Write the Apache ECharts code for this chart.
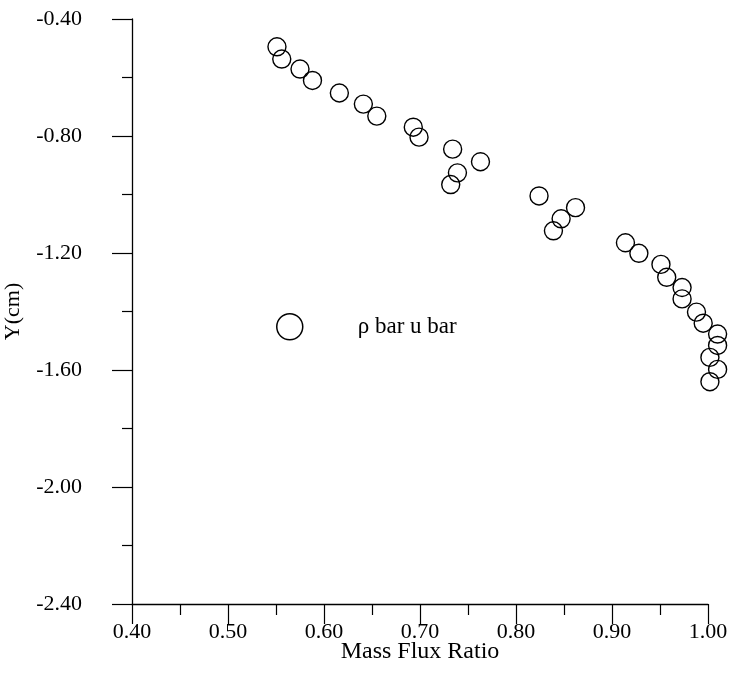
<!DOCTYPE html>
<html>
<head>
<meta charset="utf-8">
<title>Mass Flux Ratio profile</title>
<script src="https://cdn.jsdelivr.net/npm/echarts@6/dist/echarts.min.js"></script>
<style>
  html, body { margin: 0; padding: 0; background: #fff; }
  #chart { width: 733px; height: 688px; }
</style>
</head>
<body>
<div id="chart"></div>
<script>
// Measured profile: mass flux ratio (rho-bar u-bar) against height Y
var massFluxRatio = [
  0.551, 0.556, 0.575, 0.588, 0.616, 0.641, 0.655, 0.693, 0.699, 0.734,
  0.763, 0.739, 0.732, 0.824, 0.862, 0.847, 0.839, 0.914, 0.928, 0.951,
  0.957, 0.973, 0.973, 0.988, 0.995, 1.010, 1.010, 1.002, 1.010, 1.002
];
var yCm = [
  -0.495, -0.537, -0.571, -0.610, -0.653, -0.691, -0.732, -0.770, -0.804, -0.845,
  -0.888, -0.926, -0.966, -1.005, -1.045, -1.083, -1.124, -1.165, -1.201, -1.239,
  -1.283, -1.318, -1.357, -1.402, -1.440, -1.477, -1.516, -1.557, -1.598, -1.640
];
var seriesName = 'ρ bar u bar';
var xTitle = 'Mass Flux Ratio';
var yTitle = 'Y(cm)';

var points = massFluxRatio.map(function (x, i) { return [x, yCm[i]]; });

var serif = '"Liberation Serif", "Times New Roman", serif';
var axisLine = { show: true, lineStyle: { color: '#000', width: 1.3 } };

var chart = echarts.init(document.getElementById('chart'), null, { renderer: 'canvas' });
chart.setOption({
  animation: false,
  backgroundColor: '#fff',
  grid: { left: 132, right: 25, top: 19, bottom: 84, outerBoundsMode: 'none', containLabel: false },
  legend: {
    left: 276,
    top: 313,
    padding: 0,
    orient: 'vertical',
    itemWidth: 26,
    itemHeight: 26,
    icon: 'circle',
    itemStyle: { color: '#fff', borderColor: '#000', borderWidth: 1.5 },
    textStyle: { fontFamily: serif, fontSize: 23, color: '#000', padding: [0, 0, 0, 50] },
    data: [seriesName]
  },
  xAxis: {
    type: 'value',
    min: 0.4,
    max: 1.0,
    interval: 0.1,
    name: xTitle,
    nameLocation: 'middle',
    nameGap: 36,
    nameMoveOverlap: false,
    nameTextStyle: { fontFamily: serif, fontSize: 24, color: '#000' },
    axisLine: axisLine,
    axisTick: { show: true, inside: false, length: 20, lineStyle: { color: '#000', width: 1.2 } },
    minorTick: { show: true, splitNumber: 2, length: 11, lineStyle: { color: '#000', width: 1.2 } },
    splitLine: { show: false },
    axisLabel: {
      margin: 17,
      fontFamily: serif, fontSize: 22, color: '#000',
      formatter: function (v) { return v.toFixed(2); }
    }
  },
  yAxis: {
    type: 'value',
    min: -2.4,
    max: -0.4,
    interval: 0.4,
    name: yTitle,
    nameLocation: 'middle',
    nameGap: 108,
    nameRotate: 90,
    nameMoveOverlap: false,
    nameTextStyle: { fontFamily: serif, fontSize: 22, color: '#000' },
    axisLine: axisLine,
    axisTick: { show: true, inside: false, length: 20, lineStyle: { color: '#000', width: 1.2 } },
    minorTick: { show: true, splitNumber: 2, length: 10, lineStyle: { color: '#000', width: 1.2 } },
    splitLine: { show: false },
    axisLabel: {
      margin: 50,
      fontFamily: serif, fontSize: 22, color: '#000',
      formatter: function (v) { return v.toFixed(2); }
    }
  },
  series: [{
    name: seriesName,
    type: 'scatter',
    clip: false,
    symbol: 'circle',
    symbolSize: 18,
    itemStyle: { color: 'rgba(255,255,255,0)', borderColor: '#000', borderWidth: 1.4, opacity: 1 },
    data: points
  }]
});
</script>
</body>
</html>
